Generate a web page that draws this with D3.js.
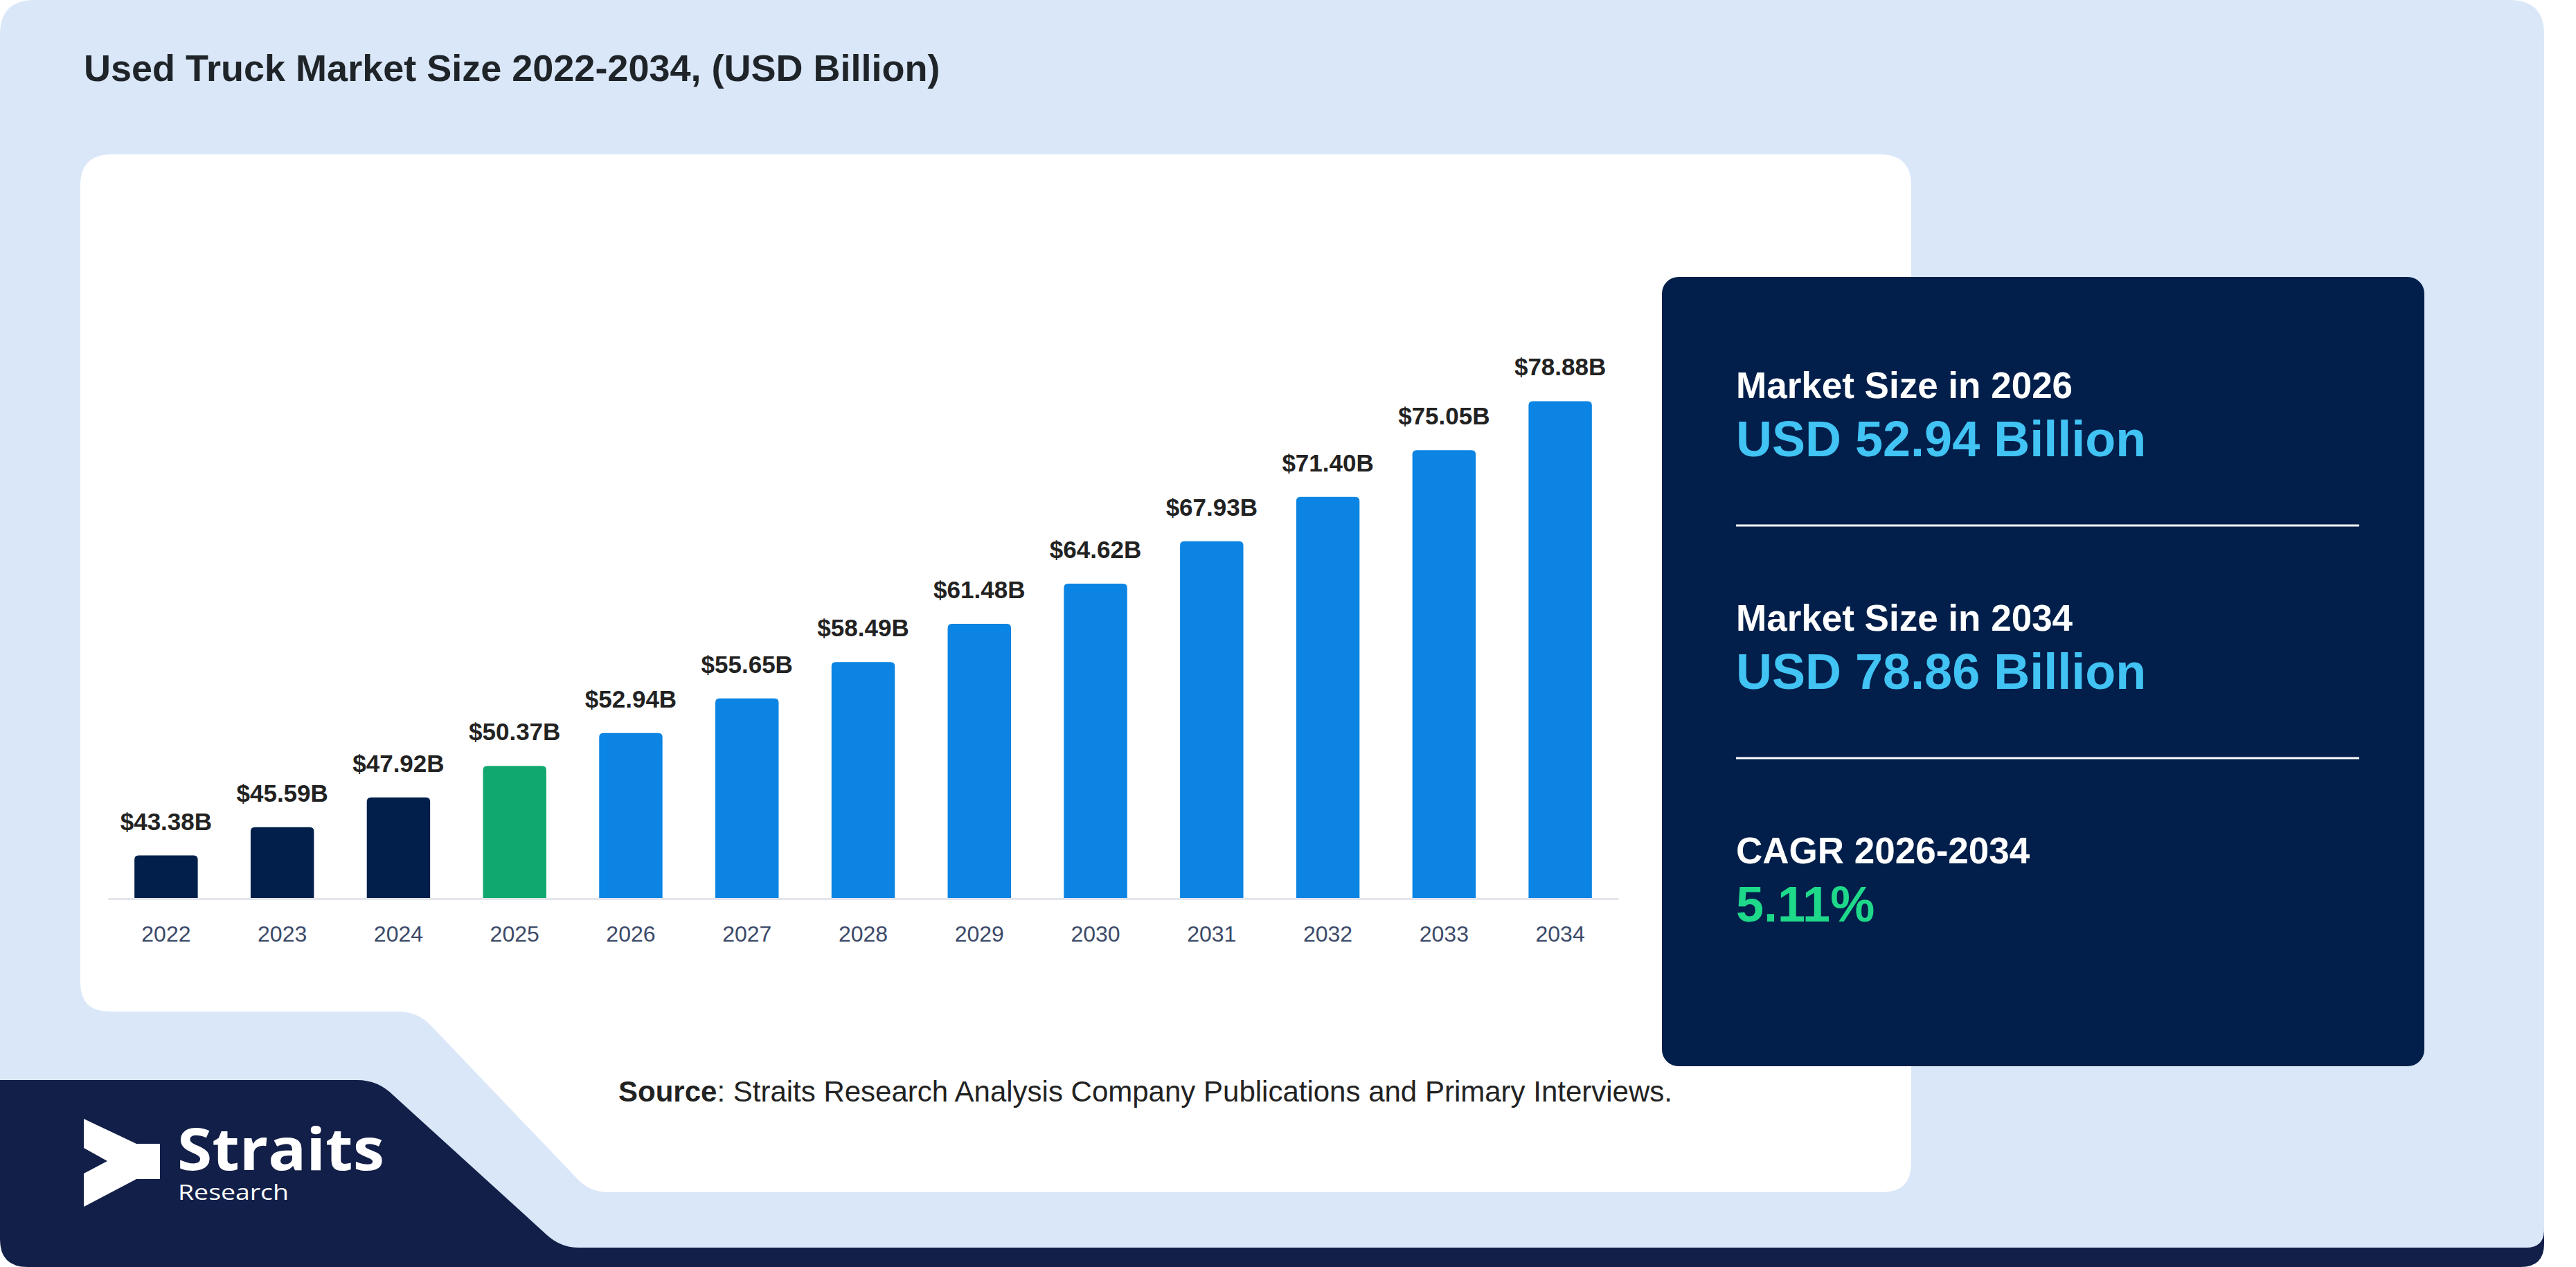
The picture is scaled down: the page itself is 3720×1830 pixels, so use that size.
<!DOCTYPE html>
<html>
<head>
<meta charset="utf-8">
<script src="https://cdn.jsdelivr.net/npm/d3@7"></script>
<style>
  html, body { margin: 0; padding: 0; background: #ffffff; }
  svg { display: block; font-family: "Liberation Sans", Arial, sans-serif; }
</style>
</head>
<body>
<div id="chart"></div>
<script>
// Used Truck Market Size 2022-2034 (USD Billion)

const years  = ["2022", "2023", "2024", "2025", "2026", "2027", "2028", "2029", "2030", "2031", "2032", "2033", "2034"];
const values = [43.38, 45.59, 47.92, 50.37, 52.94, 55.65, 58.49, 61.48, 64.62, 67.93, 71.40, 75.05, 78.88];
const phases = ["hist", "hist", "hist", "base", "fcst", "fcst", "fcst", "fcst", "fcst", "fcst", "fcst", "fcst", "fcst"];

const summaryLabels = ["Market Size in 2026", "Market Size in 2034", "CAGR 2026-2034"];
const summaryValues = ["USD 52.94 Billion", "USD 78.86 Billion", "5.11%"];
const summaryKinds  = ["usd", "usd", "cagr"];

const W = 3720, H = 1830;
const NAVY = "#121f48";
const LIGHT = "#dae7f9";

const phaseColor = d3.scaleOrdinal()
  .domain(["hist", "base", "fcst"])
  .range(["#011f4a", "#11a86f", "#0b84e3"]);

const svg = d3.select("#chart")
  .append("svg")
  .attr("width", W)
  .attr("height", H)
  .attr("viewBox", `0 0 ${W} ${H}`);

// ---------- fonds ----------
// bande foncée du bas
svg.append("path")
  .attr("d", "M0,1530 H3674 V1796 Q3674,1830 3640,1830 H40 Q0,1830 0,1790 Z")
  .attr("fill", NAVY);

// carte bleu clair (découpée en bas à gauche)
svg.append("path")
  .attr("d", "M0,50 Q0,0 50,0 H3624 Q3674,0 3674,50 V1776 Q3674,1802 3648,1802 H836 " +
             "Q810,1802 790,1784 L568,1582 Q546,1560 516,1560 H0 Z")
  .attr("fill", LIGHT);

// panneau blanc
svg.append("path")
  .attr("d", "M161,223 H2715 Q2760,223 2760,268 V1680 Q2760,1722 2718,1722 H878 " +
             "Q852,1722 834,1703 L622,1481 Q603,1461 574,1461 H158 Q116,1461 116,1419 V268 Q116,223 161,223 Z")
  .attr("fill", "#ffffff");

// Titre
svg.append("text")
  .attr("x", 121)
  .attr("y", 117)
  .style("font-size", "54px")
  .style("font-weight", "700")
  .style("fill", "#1f2429")
  .text("Used Truck Market Size 2022-2034, (USD Billion)");

// ---------- barres ----------
const x = d3.scaleBand()
  .domain(years)
  .range([156, 2337])
  .paddingInner(0.455)
  .paddingOuter(0.2275);

const baseY = 1298;
const y = d3.scaleLinear()
  .domain([40, 80])
  .range([baseY, baseY - 40 * 18.48]);

const data = years.map((yr, i) => ({ year: yr, value: values[i], phase: phases[i] }));

function topRounded(x0, y0, w, h, r) {
  return `M${x0},${y0 + h} V${y0 + r} Q${x0},${y0} ${x0 + r},${y0} H${x0 + w - r} ` +
         `Q${x0 + w},${y0} ${x0 + w},${y0 + r} V${y0 + h} Z`;
}

svg.append("g")
  .selectAll("path")
  .data(data)
  .join("path")
  .attr("d", d => topRounded(x(d.year), y(d.value), x.bandwidth(), baseY - y(d.value), 6))
  .attr("fill", d => phaseColor(d.phase));

// axe X
const xAxis = svg.append("g")
  .attr("transform", `translate(0,${baseY})`)
  .call(d3.axisBottom(x).tickSize(0).tickSizeOuter(0).tickPadding(39));

xAxis.select(".domain")
  .attr("stroke", "#e3e6eb")
  .attr("stroke-width", 3);

xAxis.selectAll("text")
  .style("font-family", "\"Liberation Sans\", Arial, sans-serif")
  .style("font-size", "32px")
  .style("fill", "#3b4a69");

// valeurs au-dessus des barres
svg.append("g")
  .selectAll("text")
  .data(data)
  .join("text")
  .attr("x", d => x(d.year) + x.bandwidth() / 2)
  .attr("y", d => y(d.value) - 37)
  .attr("text-anchor", "middle")
  .style("font-size", "35px")
  .style("font-weight", "700")
  .style("fill", "#222222")
  .text(d => `$${d.value.toFixed(2)}B`);

// ---------- encadré résumé ----------
svg.append("rect")
  .attr("x", 2400)
  .attr("y", 400)
  .attr("width", 1101)
  .attr("height", 1140)
  .attr("rx", 24)
  .attr("fill", "#011f4a");

const blockStep = 336;
summaryLabels.forEach((lab, i) => {
  const by = 575 + i * blockStep;
  svg.append("text")
    .attr("x", 2507)
    .attr("y", by)
    .style("font-size", "53px")
    .style("font-weight", "700")
    .style("fill", "#ffffff")
    .text(lab);

  svg.append("text")
    .attr("x", 2507)
    .attr("y", by + 84)
    .style("font-size", "72px")
    .style("font-weight", "700")
    .style("fill", summaryKinds[i] === "cagr" ? "#1fd98b" : "#41c3f4")
    .text(summaryValues[i]);

  if (i < summaryLabels.length - 1) {
    svg.append("line")
      .attr("x1", 2507)
      .attr("x2", 3407)
      .attr("y1", by + 184)
      .attr("y2", by + 184)
      .attr("stroke", "#ffffff")
      .attr("stroke-width", 3);
  }
});

// Source
const src = svg.append("text")
  .attr("x", 893)
  .attr("y", 1591)
  .style("font-size", "42px")
  .style("fill", "#222222");
src.append("tspan").style("font-weight", "700").text("Source");
src.append("tspan").text(": Straits Research Analysis Company Publications and Primary Interviews.");

// ---------- logo ----------
const logo = svg.append("g");
logo.append("polygon")
  .attr("points", "121,1616 197,1652 231,1652 231,1703 197,1703 121,1743 121,1695 155,1677 121,1658")
  .attr("fill", "#ffffff");

const logoText = logo.append("text")
  .style("font-family", "\"Open Sans\", \"Noto Sans\", sans-serif")
  .style("fill", "#ffffff");

logoText.append("tspan")
  .attr("x", 256)
  .attr("y", 1690)
  .attr("textLength", 299)
  .attr("lengthAdjust", "spacingAndGlyphs")
  .style("font-size", "84px")
  .style("font-weight", "700")
  .text("Straits");

logoText.append("tspan")
  .attr("x", 257)
  .attr("y", 1733)
  .attr("textLength", 160)
  .attr("lengthAdjust", "spacingAndGlyphs")
  .style("font-size", "31px")
  .style("font-weight", "400")
  .text("Research");
</script>
</body>
</html>
